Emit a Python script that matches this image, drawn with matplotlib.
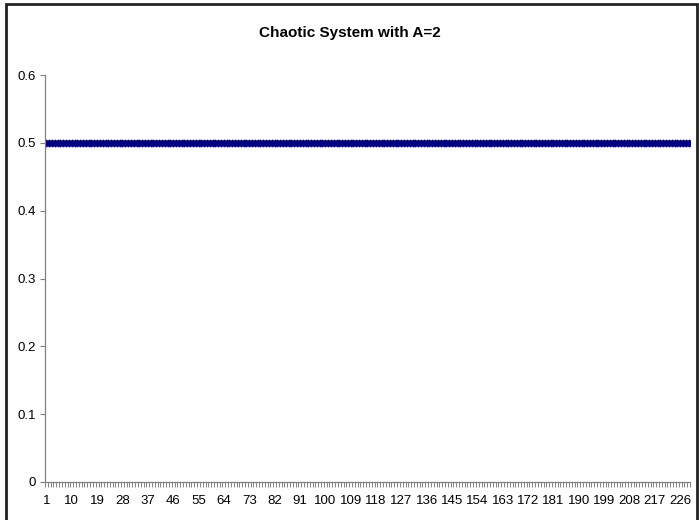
import matplotlib
matplotlib.use("Agg")
import matplotlib.pyplot as plt
import numpy as np
from matplotlib.patches import Rectangle

# Series values: the system settles at 0.5 from the first step on
n_points = 229
values = [0.5] * n_points
steps = list(range(1, n_points + 1))
label_steps = steps[::9]
y_ticks = [0, 0.1, 0.2, 0.3, 0.4, 0.5, 0.6]
y_labels = ["0", "0.1", "0.2", "0.3", "0.4", "0.5", "0.6"]

plt.rcParams["font.family"] = ["Liberation Sans", "DejaVu Sans"]

fig = plt.figure(figsize=(6.99, 5.2), dpi=100)
ax = fig.add_axes([45 / 699, 38 / 520, 645 / 699, 407 / 520])

ax.plot(steps, values, color="#000080", linewidth=1.2,
        marker="D", markersize=3.4, markerfacecolor="#000080",
        markeredgecolor="#000080")

ax.set_xlim(0.5, n_points + 0.5)
ax.set_ylim(0, 0.6)

# category axis: labels on categories, tick marks between them
ax.set_xticks(label_steps)
ax.set_xticklabels([str(s) for s in label_steps], fontsize=9.5)
ax.set_xticks(np.arange(0.5, n_points + 1, 1.0), minor=True)
ax.tick_params(axis="x", which="major", length=0, pad=9)
ax.tick_params(axis="x", which="minor", length=3.5, width=0.6, color="#707070")

ax.set_yticks(y_ticks)
ax.set_yticklabels(y_labels, fontsize=9.5)
ax.tick_params(axis="y", length=3.5, width=0.8, color="#808080", pad=3)

for side in ["top", "right"]:
    ax.spines[side].set_visible(False)
for side in ["left", "bottom"]:
    ax.spines[side].set_color("#808080")
    ax.spines[side].set_linewidth(0.9)

fig.text(0.5, 1 - 33 / 520, "Chaotic System with A=2", ha="center",
         va="center", fontsize=11, fontweight="bold")

# outer chart frame
fig.patches.append(Rectangle((6 / 699, -0.02), 691 / 699, 1 - 4 / 520 + 0.02,
                             transform=fig.transFigure, fill=False,
                             edgecolor="#222222", linewidth=2.0))

fig.savefig("out.png", dpi=100)
